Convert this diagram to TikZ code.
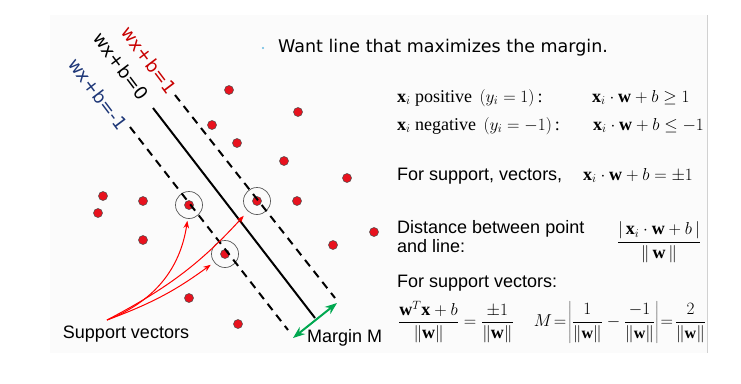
\documentclass[tikz,border=0pt]{standalone}
\usepackage{fontspec}
\setmainfont{Liberation Serif}
\newfontfamily\arialfont{Liberation Sans}
\newfontfamily\verdfont{DejaVu Sans}
\usetikzlibrary{arrows.meta,positioning}

\definecolor{dotred}{RGB}{232,18,30}
\definecolor{lblred}{RGB}{200,0,0}
\definecolor{lblblue}{RGB}{30,55,120}
\definecolor{margingreen}{RGB}{0,168,80}
\definecolor{bulletblue}{RGB}{100,185,225}

\begin{document}
\begin{tikzpicture}[x=1pt,y=-1pt,>={Stealth}]
       \tikzstyle{dot}=[circle,fill=dotred,draw=black!70,line width=0.5pt,inner sep=0pt,minimum size=9pt]
       \tikzstyle{ring}=[circle,draw=black!65,line width=0.7pt,inner sep=0pt,minimum size=27pt]
       \tikzstyle{margin line}=[line width=2pt,dash pattern=on 8pt off 6pt]
       \tikzstyle{lbl}=[font=\verdfont\fontsize{18}{18}\selectfont,rotate=-53,inner sep=0pt]
       \tikzstyle{svarrow}=[->,red,line width=1pt]
       \tikzstyle{stext}=[font=\arialfont\fontsize{18}{20}\selectfont,anchor=base west,inner sep=0pt]
       \tikzstyle{mtext}=[font=\fontsize{18}{20}\selectfont,inner sep=0pt]

       \useasboundingbox (0,0) rectangle (741,383);
       \fill[black!1.5] (50,15) rectangle (707,353);
       \draw[black!18] (707,15) -- (707,353);

       % points
       \node[dot] (p1)  at (229,90)  {};
       \node[dot] (p2)  at (212,125) {};
       \node[dot] (p3)  at (237,143) {};
       \node[dot] (p4)  at (298,112) {};
       \node[dot] (p5)  at (284,161) {};
       \node[dot] (p6)  at (347,178) {};
       \node[dot] (p7)  at (103,196) {};
       \node[dot] (p8)  at (143,201) {};
       \node[dot] (p9)  at (189,205) {};
       \node[dot] (p10) at (257,201) {};
       \node[dot] (p11) at (297,201) {};
       \node[dot] (p12) at (98,213)  {};
       \node[dot] (p13) at (374,232) {};
       \node[dot] (p14) at (143,240) {};
       \node[dot] (p15) at (333,245) {};
       \node[dot] (p16) at (225,254) {};
       \node[dot] (p17) at (189,298) {};
       \node[dot] (p18) at (238,324) {};

       % support vectors
       \node[ring] (sv1) at (p9)  {};
       \node[ring] (sv2) at (p10) {};
       \node[ring] (sv3) at (p16) {};

       % the three lines
       \draw[margin line] (175,95) -- (335,298);
       \draw[line width=2pt] (153,108) -- (315,318);
       \draw[margin line] (130,127) -- (288,330);

       \node[lbl,text=lblred]  (lab1) at (149,60) {wx+b=1};
       \node[lbl,text=black]   (lab0) at (121,66) {wx+b=0};
       \node[lbl,text=lblblue] (lab2) at (98,94)  {wx+b=-1};

       % arrows to the support vectors
       \node[stext,anchor=base] (svtext) at (126,338) {Support vectors};
       \coordinate (tail) at (107,320);
       \draw[svarrow,shorten >=2pt] (tail) to[bend right=30] (sv1);
       \draw[svarrow,shorten >=6pt] (tail) to[bend right=10] (sv2);
       \draw[svarrow,shorten >=4pt] (tail) to[bend right=8] (sv3);

       % margin
       \coordinate (m1) at (293,338);
       \coordinate (m2) at (337,303);
       \draw[<->,margingreen,line width=2pt] (m1) -- (m2);
       \node[stext] (mtext) at (307,342) {Margin M};

       % right side
       \fill[bulletblue] (263,48) circle (1.2pt);
       \node[font=\verdfont\fontsize{17.5}{20}\selectfont,anchor=base west,inner sep=0pt] (want) at (278,52) {Want line that maximizes the margin.};
       \node[mtext,anchor=base west] (pos)   at (397,102) {$\mathbf{x}_i$ positive $\,(y_i=1)$\,:};
       \node[mtext,anchor=base west] (poseq) at (592,102) {$\mathbf{x}_i\cdot\mathbf{w}+b\geq 1$};
       \node[mtext,anchor=base west] (neg)   at (397,130) {$\mathbf{x}_i$ negative $\,(y_i=-1)$\,:};
       \node[mtext,anchor=base west] (negeq) at (593,130) {$\mathbf{x}_i\cdot\mathbf{w}+b\leq -1$};
       \node[stext] (sup)   at (397,180) {For support, vectors,};
       \node[mtext,anchor=base west] (supeq) at (583,180) {$\mathbf{x}_i\cdot\mathbf{w}+b=\pm 1$};
       \node[stext] (dist)  at (397,233) {Distance between point};
       \node[stext] (dist2) at (397,252) {and line:};
       \node[mtext] (distfrac) at (659,242) {$\displaystyle\frac{|\,\mathbf{x}_i\cdot\mathbf{w}+b\,|}{\|\,\mathbf{w}\,\|}$};
       \node[stext] (sup2)  at (397,287) {For support vectors:};
       \node[mtext] (eq1) at (456,322) {$\displaystyle\frac{\mathbf{w}^T\mathbf{x}+b}{\|\mathbf{w}\|}=\frac{\pm 1}{\|\mathbf{w}\|}$};
       \node[mtext,font=\fontsize{16}{18}\selectfont] (eq2) at (620,322) {$\displaystyle M\!=\!\left|\frac{1}{\|\mathbf{w}\|}-\frac{-1}{\|\mathbf{w}\|}\right|\!=\!\frac{2}{\|\mathbf{w}\|}$};
\end{tikzpicture}
\end{document}
